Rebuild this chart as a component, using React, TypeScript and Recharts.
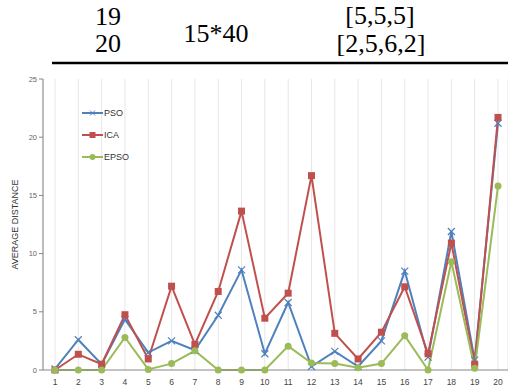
import { LineChart, Line, XAxis, YAxis, CartesianGrid, Legend } from 'recharts'

const categories = ['1', '2', '3', '4', '5', '6', '7', '8', '9', '10', '11', '12', '13', '14', '15', '16', '17', '18', '19', '20']
const psoValues = [0.1, 2.6, 0.5, 4.35, 1.5, 2.5, 1.7, 4.7, 8.6, 1.4, 5.8, 0.3, 1.6, 0.3, 2.5, 8.5, 1.1, 11.9, 0.85, 21.2]
const icaValues = [0, 1.35, 0.5, 4.75, 0.95, 7.2, 2.2, 6.75, 13.65, 4.45, 6.6, 16.7, 3.15, 0.95, 3.25, 7.15, 1.4, 10.9, 0.5, 21.7]
const epsoValues = [0, 0, 0, 2.8, 0.05, 0.55, 1.65, 0, 0, 0, 2.05, 0.6, 0.55, 0.2, 0.55, 2.95, 0, 9.3, 0.15, 15.8]
const yTicks = [0, 5, 10, 15, 20, 25]

const data = categories.map((c, i) => ({ name: c, PSO: psoValues[i], ICA: icaValues[i], EPSO: epsoValues[i] }))

const BLUE = '#4f81bd'
const RED = '#c0504d'
const GREEN = '#9bbb59'
const SANS = "'Liberation Sans', Arial, sans-serif"
const SERIF = "'Liberation Serif', 'Times New Roman', serif"

const CrossDot = (props: any) => {
  const { cx, cy } = props
  if (cx == null || cy == null) return null
  const s = 3.5
  return (
    <g>
      <line x1={cx - s} y1={cy - s} x2={cx + s} y2={cy + s} stroke={BLUE} strokeWidth={1.2} />
      <line x1={cx - s} y1={cy + s} x2={cx + s} y2={cy - s} stroke={BLUE} strokeWidth={1.2} />
    </g>
  )
}

const SquareDot = (props: any) => {
  const { cx, cy } = props
  if (cx == null || cy == null) return null
  return <rect x={cx - 3.5} y={cy - 3.5} width={7} height={7} fill={RED} />
}

const CircleDot = (props: any) => {
  const { cx, cy } = props
  if (cx == null || cy == null) return null
  return <circle cx={cx} cy={cy} r={3.5} fill={GREEN} />
}

const legendItems = [
  { label: 'PSO', color: BLUE, kind: 'x' },
  { label: 'ICA', color: RED, kind: 'sq' },
  { label: 'EPSO', color: GREEN, kind: 'c' },
]

function ChartLegend() {
  return (
    <svg width={60} height={60} style={{ display: 'block' }}>
      {legendItems.map((it, i) => {
        const y = 6 + i * 22
        return (
          <g key={it.label}>
            <line x1={1} y1={y} x2={22} y2={y} stroke={it.color} strokeWidth={2} />
            {it.kind === 'x' && (
              <g stroke={it.color} strokeWidth={1}>
                <line x1={9} y1={y - 2.5} x2={14} y2={y + 2.5} />
                <line x1={9} y1={y + 2.5} x2={14} y2={y - 2.5} />
              </g>
            )}
            {it.kind === 'sq' && <rect x={8.5} y={y - 3} width={6} height={6} fill={it.color} />}
            {it.kind === 'c' && <circle cx={11.5} cy={y} r={3} fill={it.color} />}
            <text x={23} y={y + 3.2} style={{ fontSize: 9, fill: '#333', fontFamily: SANS }}>
              {it.label}
            </text>
          </g>
        )
      })}
    </svg>
  )
}

export default function App() {
  const tableText = { fontFamily: SERIF, fontSize: 26, fill: '#000' }
  return (
    <div style={{ position: 'absolute', left: 0, top: 0, width: 508, height: 392, background: '#fff', overflow: 'hidden' }}>
      <svg width={508} height={70} style={{ position: 'absolute', left: 0, top: 0 }}>
        <text x={108} y={24.5} textAnchor="middle" style={tableText}>19</text>
        <text x={108} y={51.5} textAnchor="middle" style={tableText}>20</text>
        <text x={216} y={41.5} textAnchor="middle" style={tableText}>15*40</text>
        <text x={380} y={24} textAnchor="middle" style={tableText}>[5,5,5]</text>
        <text x={381} y={51.5} textAnchor="middle" style={tableText}>[2,5,6,2]</text>
        <line x1={52} y1={63} x2={508} y2={63} stroke="#000" strokeWidth={2.4} />
      </svg>
      <div style={{ position: 'absolute', left: 0, top: 70 }}>
        <LineChart width={508} height={322} data={data} margin={{ top: 9, right: 0, bottom: 0, left: 8 }}>
          <CartesianGrid horizontal={false} vertical stroke="#e6e6e6" strokeWidth={1} />
          <XAxis
            dataKey="name"
            padding={{ left: 12, right: 10 }}
            height={22}
            tickLine={false}
            axisLine={{ stroke: '#868686' }}
            interval={0}
            tick={{ fill: '#444', fontSize: 8.5, fontFamily: SANS }}
            tickMargin={3}
          />
          <YAxis
            domain={[0, 25]}
            ticks={yTicks}
            width={35}
            axisLine={{ stroke: '#868686' }}
            tickLine={{ stroke: '#868686' }}
            tickSize={4}
            tick={{ fill: '#666', fontSize: 7.5, fontFamily: SANS }}
            label={{
              value: 'AVERAGE DISTANCE',
              angle: -90,
              position: 'insideLeft',
              offset: 0,
              dx: 7,
              style: { textAnchor: 'middle', fontSize: 9, fill: '#333', fontFamily: SANS },
            }}
          />
          <Legend
            layout="vertical"
            verticalAlign="middle"
            align="center"
            wrapperStyle={{ left: 81, top: 37, width: 60, height: 60 }}
            content={() => <ChartLegend />}
          />
          <Line type="linear" dataKey="PSO" stroke={BLUE} strokeWidth={2} dot={<CrossDot />} activeDot={false} isAnimationActive={false} />
          <Line type="linear" dataKey="ICA" stroke={RED} strokeWidth={2} dot={<SquareDot />} activeDot={false} isAnimationActive={false} />
          <Line type="linear" dataKey="EPSO" stroke={GREEN} strokeWidth={2} dot={<CircleDot />} activeDot={false} isAnimationActive={false} />
        </LineChart>
      </div>
    </div>
  )
}
